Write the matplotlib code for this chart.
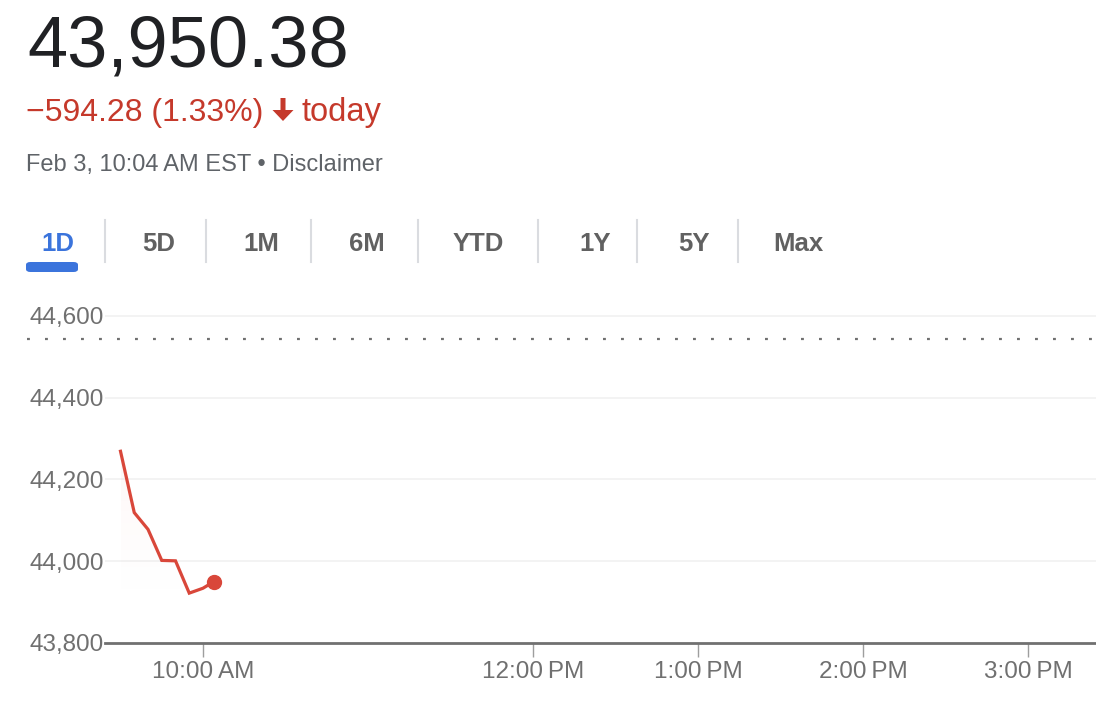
import matplotlib
matplotlib.use("Agg")
import matplotlib.pyplot as plt
import numpy as np
from matplotlib.patches import FancyBboxPatch, Polygon, FancyArrow

# ---- data ----
times = ["9:30", "9:35", "9:40", "9:45", "9:50", "9:55", "10:00", "10:04"]
values = [44269, 44119, 44078, 44002, 44001, 43922, 43934, 43950.38]
prev_close = 44544.66
price_text = "43,950.38"
change_text = "\u2212594.28 (1.33%)"
date_text = "Feb 3, 10:04\u2009AM EST \u2022 Disclaimer"
tabs = ["1D", "5D", "1M", "6M", "YTD", "1Y", "5Y", "Max"]
y_ticks = [43800, 44000, 44200, 44400, 44600]
x_tick_times = ["10:00", "12:00", "13:00", "14:00", "15:00"]
x_tick_labels = ["10:00\u2009AM", "12:00\u2009PM", "1:00\u2009PM", "2:00\u2009PM", "3:00\u2009PM"]


def to_min(t):
    h, m = t.split(":")
    return (int(h) - 9) * 60 + int(m) - 30


xs = np.array([to_min(t) for t in times], dtype=float)
ys = np.array(values, dtype=float)

plt.rcParams['font.family'] = ['Liberation Sans', 'DejaVu Sans']

W, H = 1096, 712
fig = plt.figure(figsize=(W / 100, H / 100), dpi=100)
fig.patch.set_facecolor("white")


def fx(px):
    return px / W


def fy(py):
    return 1 - py / H


RED_TXT = "#c5392b"
RED_LINE = "#d9473a"
BLUE = "#3b74dc"
GRAY_TXT = "#5f6368"
TAB_GRAY = "#616161"

# header
fig.text(fx(27), fy(67), price_text, fontsize=52, color="#202124", va="baseline", ha="left")
fig.text(fx(26), fy(121), change_text, fontsize=23, color=RED_TXT, va="baseline", ha="left")
fig.add_artist(FancyArrow(fx(283), fy(98), 0, -(23 / H), width=5 / W, head_width=21 / W,
                          head_length=11 / H, length_includes_head=True,
                          transform=fig.transFigure, color=RED_TXT, lw=0))
fig.text(fx(302), fy(121), "today", fontsize=23.5, color=RED_TXT, va="baseline", ha="left")
fig.text(fx(26), fy(171), date_text, fontsize=17, color=GRAY_TXT, va="baseline", ha="left")

# tabs
tab_centers = [58, 159, 261, 367, 478, 595, 694, 798]
seps = [105, 206, 311, 418, 538, 637, 738]
for lab, cx in zip(tabs, tab_centers):
    fig.text(fx(cx), fy(251), lab, fontsize=18.5, fontweight="bold",
             color=BLUE if lab == "1D" else TAB_GRAY, ha="center", va="baseline")
for sx in seps:
    fig.add_artist(plt.Line2D([fx(sx), fx(sx)], [fy(220), fy(262)], color="#dadce0", lw=1.5,
                              transform=fig.transFigure))
fig.add_artist(FancyBboxPatch((fx(26), fy(272)), fx(52), 10 / H,
                              boxstyle="round,pad=0,rounding_size=0.004",
                              transform=fig.transFigure, facecolor=BLUE, edgecolor="none"))

# chart
ax = fig.add_axes([fx(105), fy(643), fx(1096) - fx(105), fy(300) - fy(643)])
x_left = (105 - 120.5) / 165 * 60
x_right = (1096 - 120.5) / 165 * 60
y_top = 44600 + (316 - 300) / 82 * 200
ax.set_xlim(x_left, x_right)
ax.set_ylim(43800, y_top)

for yt in y_ticks[1:]:
    ax.axhline(yt, color="#f2f2f2", lw=1.3, zorder=1)

# previous close dotted line (extends into the label gutter)
ax.plot([(27 - 105) / (1096 - 105), 1.0], [prev_close, prev_close],
        transform=ax.get_yaxis_transform(), clip_on=False,
        color="#707070", lw=1.6, linestyle=(0, (1.3, 6.8)), zorder=2)

# gradient fill under line
grad = np.linspace(0, 1, 256)
rgba = np.zeros((256, 1, 4))
rgba[:, 0, 0] = 0.85
rgba[:, 0, 1] = 0.28
rgba[:, 0, 2] = 0.23
rgba[:, 0, 3] = (grad ** 2) * 0.05
ymax_fill = ys.max()
im = ax.imshow(rgba, extent=[xs.min(), xs.max(), 43800, ymax_fill], origin="lower",
               aspect="auto", zorder=2)
poly = Polygon(np.vstack([np.column_stack([xs, ys]), [[xs.max(), 43800], [xs.min(), 43800]]]),
               closed=True, transform=ax.transData, facecolor="none", edgecolor="none")
ax.add_patch(poly)
im.set_clip_path(poly)

ax.plot(xs, ys, color=RED_LINE, lw=2.3, zorder=4, solid_joinstyle="miter")
ax.plot(xs[-1], ys[-1], "o", color=RED_LINE, markersize=10, zorder=5)

for sp in ["top", "right", "left"]:
    ax.spines[sp].set_visible(False)
ax.spines["bottom"].set_color("#707070")
ax.spines["bottom"].set_linewidth(2)

ax.set_yticks(y_ticks)
ax.set_yticklabels([f"{v:,}" for v in y_ticks])
ax.tick_params(axis="y", length=0, pad=1, labelsize=17.5, labelcolor="#707070")
ax.set_xticks([to_min(t) for t in x_tick_times])
ax.set_xticklabels(x_tick_labels)
ax.tick_params(axis="x", length=10, width=1, color="#9e9e9e", pad=3, labelsize=17.5,
               labelcolor="#707070")

fig.savefig("out.png", dpi=100, facecolor="white")
